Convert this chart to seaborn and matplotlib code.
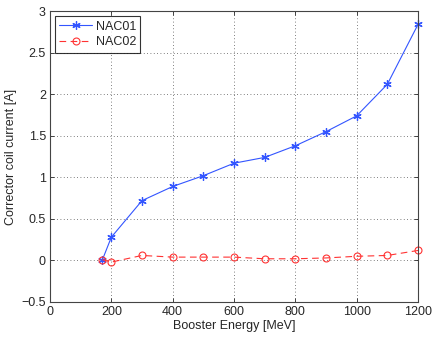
import matplotlib
matplotlib.use("Agg")
import matplotlib.pyplot as plt
import seaborn as sns
import pandas as pd

energy = [170, 200, 300, 400, 500, 600, 700, 800, 900, 1000, 1100, 1200]
nac01 = [0.0, 0.28, 0.72, 0.89, 1.02, 1.17, 1.24, 1.38, 1.55, 1.74, 2.12, 2.84]
nac02 = [0.01, -0.02, 0.06, 0.04, 0.04, 0.04, 0.02, 0.02, 0.03, 0.05, 0.06, 0.12]
xticks = [0, 200, 400, 600, 800, 1000, 1200]
yticks = [-0.5, 0, 0.5, 1, 1.5, 2, 2.5, 3]

sns.set_style("ticks")
plt.rcParams['font.family'] = ['Liberation Sans', 'DejaVu Sans']

df = pd.DataFrame({"energy": energy, "NAC01": nac01, "NAC02": nac02})

fig = plt.figure(figsize=(4.36, 3.37), dpi=100)
ax = fig.add_axes([0.1147, 0.1039, 0.844, 0.863])

sns.lineplot(data=df, x="energy", y="NAC01", ax=ax, color="#3355ff", lw=0.8,
             marker=(6, 2, 0), markersize=6, markeredgecolor="#3355ff", markeredgewidth=0.9,
             label="NAC01", clip_on=False)
sns.lineplot(data=df, x="energy", y="NAC02", ax=ax, color="#ff3333", lw=0.8,
             linestyle=(0, (6, 4)), marker="o", markersize=5, markerfacecolor="none",
             markeredgecolor="#ff3333", markeredgewidth=0.8, label="NAC02", clip_on=False)

ax.set_xlim(0, 1200)
ax.set_ylim(-0.5, 3)
ax.set_xticks(xticks)
ax.set_xticklabels([str(t) for t in xticks])
ax.set_yticks(yticks)
ax.set_yticklabels(["\u22120.5", "0", "0.5", "1", "1.5", "2", "2.5", "3"])
ax.tick_params(direction="in", length=3, labelsize=9, top=True, right=True, width=0.6, pad=3)
ax.grid(True, linestyle=(0, (1, 3)), color="#555555", linewidth=0.6)
for s in ax.spines.values():
    s.set_linewidth(0.8)
    s.set_color("#444444")
ax.set_xlabel("Booster Energy [MeV]", fontsize=9, labelpad=1)
ax.set_ylabel("Corrector coil current [A]", fontsize=9, labelpad=3)

leg = ax.legend(loc="upper left", fontsize=9, frameon=True, fancybox=False,
                edgecolor="black", borderpad=0.35, handlelength=2.6, labelspacing=0.3,
                borderaxespad=0.4, numpoints=1, handletextpad=0.3)
leg.get_frame().set_linewidth(0.8)

fig.savefig("out.png", dpi=100)
